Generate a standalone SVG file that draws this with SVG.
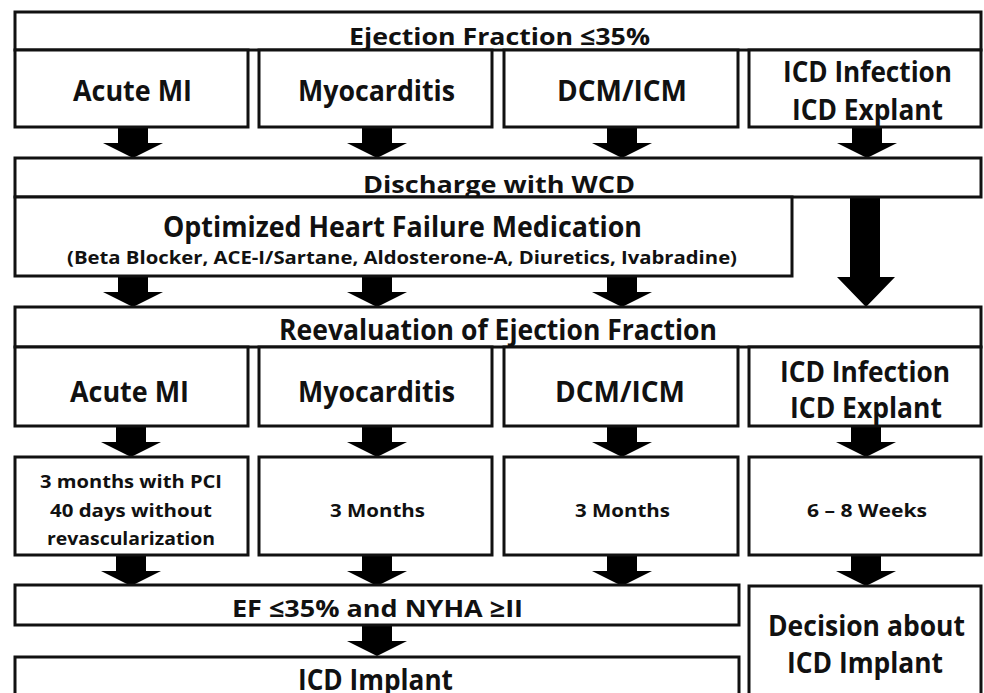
<svg xmlns="http://www.w3.org/2000/svg" width="984" height="693" viewBox="0 0 984 693">
<style>
rect.b{fill:#fff;stroke:#111;stroke-width:3}
text{font-family:"Open Sans",Lato,"Liberation Sans",sans-serif;font-weight:700;fill:#111}
.h{font-size:24px}
.n{font-size:28px}
.s{font-size:17px}
.t{font-size:18.5px}
.a{fill:#000}
</style>
<defs>
<path id="arr" d="M-15,0 H15 V16 H30 L0,31 L-30,16 H-15 Z"/>
</defs>
<rect x="0" y="0" width="984" height="693" fill="#fff"/>
<g id="connectors" class="a">
<use href="#arr" x="133" y="127"/>
<use href="#arr" x="377" y="127"/>
<use href="#arr" x="622" y="127"/>
<use href="#arr" x="867" y="127"/>
<path d="M850,197 H880 V277 H895 L866,307 L837,277 H850 Z"/>
<use href="#arr" x="133" y="276"/>
<use href="#arr" x="377" y="276"/>
<use href="#arr" x="622" y="276"/>
<use href="#arr" x="131" y="426"/>
<use href="#arr" x="377" y="426"/>
<use href="#arr" x="622" y="426"/>
<use href="#arr" x="866" y="426"/>
<use href="#arr" x="131" y="555"/>
<use href="#arr" x="377" y="555"/>
<use href="#arr" x="622" y="555"/>
<use href="#arr" x="866" y="555"/>
<use href="#arr" x="377" y="625"/>
</g>
<g id="ef"><rect class="b" x="15" y="12" width="966" height="38"/><text class="h" x="349" y="45" textLength="301" lengthAdjust="spacingAndGlyphs">Ejection Fraction ≤35%</text></g>
<g id="mi1"><rect class="b" x="15" y="50" width="233" height="77"/><text class="n" x="73" y="101" textLength="119" lengthAdjust="spacingAndGlyphs">Acute MI</text></g>
<g id="myo1"><rect class="b" x="259" y="50" width="233" height="77"/><text class="n" x="298" y="101" textLength="157" lengthAdjust="spacingAndGlyphs">Myocarditis</text></g>
<g id="dcm1"><rect class="b" x="504" y="50" width="234" height="77"/><text class="n" x="557" y="101" textLength="130" lengthAdjust="spacingAndGlyphs">DCM/ICM</text></g>
<g id="icd1"><rect class="b" x="749" y="50" width="232" height="77"/><text class="n" x="783" y="82" textLength="169" lengthAdjust="spacingAndGlyphs">ICD Infection</text><text class="n" x="792" y="120" textLength="151" lengthAdjust="spacingAndGlyphs">ICD Explant</text></g>
<g id="discharge"><rect class="b" x="15" y="158" width="966" height="39"/><text class="h" x="363" y="193" textLength="272" lengthAdjust="spacingAndGlyphs">Discharge with WCD</text></g>
<g id="med"><rect class="b" x="15" y="197" width="777" height="79"/><text class="n" x="163" y="237" textLength="479" lengthAdjust="spacingAndGlyphs">Optimized Heart Failure Medication</text><text class="s" x="67" y="264" textLength="670" lengthAdjust="spacingAndGlyphs">(Beta Blocker, ACE-I/Sartane, Aldosterone-A, Diuretics, Ivabradine)</text></g>
<g id="reeval"><rect class="b" x="15" y="307" width="966" height="40"/><text class="n" x="279" y="340" textLength="438" lengthAdjust="spacingAndGlyphs">Reevaluation of Ejection Fraction</text></g>
<g id="mi2"><rect class="b" x="15" y="347" width="233" height="79"/><text class="n" x="70" y="402" textLength="119" lengthAdjust="spacingAndGlyphs">Acute MI</text></g>
<g id="myo2"><rect class="b" x="259" y="347" width="233" height="79"/><text class="n" x="298" y="402" textLength="157" lengthAdjust="spacingAndGlyphs">Myocarditis</text></g>
<g id="dcm2"><rect class="b" x="504" y="347" width="234" height="79"/><text class="n" x="555" y="402" textLength="130" lengthAdjust="spacingAndGlyphs">DCM/ICM</text></g>
<g id="icd2"><rect class="b" x="749" y="347" width="232" height="79"/><text class="n" x="780" y="382" textLength="170" lengthAdjust="spacingAndGlyphs">ICD Infection</text><text class="n" x="790" y="418" textLength="152" lengthAdjust="spacingAndGlyphs">ICD Explant</text></g>
<g id="t1"><rect class="b" x="15" y="457" width="233" height="98"/><text class="t" x="40" y="488" textLength="182" lengthAdjust="spacingAndGlyphs">3 months with PCI</text><text class="t" x="50" y="517" textLength="162" lengthAdjust="spacingAndGlyphs">40 days without</text><text class="t" x="47" y="545" textLength="168" lengthAdjust="spacingAndGlyphs">revascularization</text></g>
<g id="t2"><rect class="b" x="259" y="457" width="233" height="98"/><text class="t" x="330" y="517" textLength="95" lengthAdjust="spacingAndGlyphs">3 Months</text></g>
<g id="t3"><rect class="b" x="504" y="457" width="234" height="98"/><text class="t" x="575" y="517" textLength="95" lengthAdjust="spacingAndGlyphs">3 Months</text></g>
<g id="t4"><rect class="b" x="749" y="457" width="232" height="98"/><text class="t" x="807" y="517" textLength="120" lengthAdjust="spacingAndGlyphs">6 – 8 Weeks</text></g>
<g id="efnyha"><rect class="b" x="15" y="585" width="724" height="40"/><text class="h" x="232" y="617" textLength="291" lengthAdjust="spacingAndGlyphs">EF ≤35% and NYHA ≥II</text></g>
<g id="implant"><rect class="b" x="15" y="657" width="724" height="50"/><text class="n" x="298" y="690" textLength="155" lengthAdjust="spacingAndGlyphs">ICD Implant</text></g>
<g id="decision"><rect class="b" x="749" y="586" width="232" height="120"/><text class="n" x="768" y="636" textLength="197" lengthAdjust="spacingAndGlyphs">Decision about</text><text class="n" x="787" y="673" textLength="156" lengthAdjust="spacingAndGlyphs">ICD Implant</text></g>
</svg>
